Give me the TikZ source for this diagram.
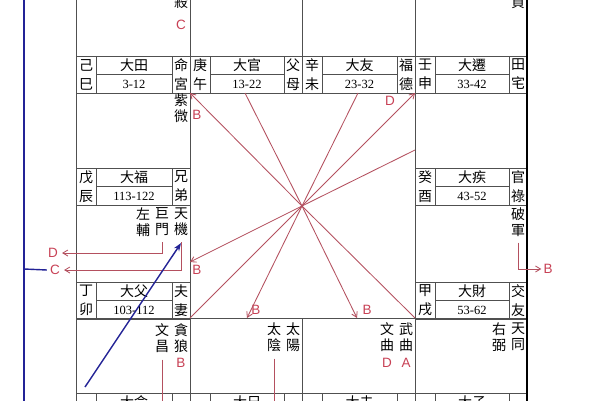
\documentclass[tikz,border=0pt]{standalone}
\usepackage{fontspec}
\setmainfont{Noto Sans CJK TC}
\newfontfamily\cjkf{Noto Sans CJK TC}
\newfontfamily\numf{Liberation Serif}
\newfontfamily\labf{Liberation Sans}
\usetikzlibrary{arrows.meta}
\definecolor{gridc}{RGB}{80,80,80}
\definecolor{redl}{RGB}{180,80,95}
\definecolor{redt}{RGB}{200,65,85}
\definecolor{bluel}{RGB}{35,35,150}
\tikzset{
  gridline/.style={draw=gridc, line width=1pt},
  border/.style={draw=black, line width=2pt},
  ch/.style={font=\cjkf\fontsize{14}{14}\selectfont, inner sep=0pt},
  ch2/.style={font=\cjkf\fontsize{14}{19}\selectfont, inner sep=0pt, align=center},
  star/.style={font=\cjkf\fontsize{14}{16}\selectfont, inner sep=0pt, align=center},
  num/.style={font=\numf\fontsize{12.5}{12.5}\selectfont, inner sep=0pt},
  lab/.style={text=redt, font=\labf\fontsize{13.5}{13.5}\selectfont, inner sep=0pt},
  redline/.style={draw=redl, line width=0.85pt},
  redarrow/.style={redline, -{Straight Barb[length=5pt,width=6pt]}},
  blueline/.style={draw=bluel, line width=1.4pt},
  bluearrow/.style={blueline, -{Stealth[length=8pt,width=6pt]}}
}
\newcommand{\palhdr}[8]{%
  \draw[gridline] (#2,#4) rectangle (#3,{#4+37});
  \draw[gridline] ({#2+20},#4) -- ({#2+20},{#4+37});
  \draw[gridline] ({#3-18},#4) -- ({#3-18},{#4+37});
  \draw[gridline] ({#2+20},{#4+18.5}) -- ({#3-18},{#4+18.5});
  \node[ch2] (#1s) at ({#2+10},{#4+18.5}) {#5};
  \node[ch] (#1n) at ({(#2+#3)/2+1},{#4+9.5}) {#6};
  \node[num] (#1r) at ({(#2+#3)/2+1},{#4+28}) {#7};
  \node[ch2] (#1p) at ({#3-9},{#4+18.5}) {#8};
}
\begin{document}
\begin{tikzpicture}[x=1pt,y=-1pt]
\useasboundingbox (0,0) rectangle (600,400);
\clip (0,0) rectangle (600,400);
\fill[white] (0,0) rectangle (600,400);

% grid
\draw[gridline] (76,-5) -- (76,405);
\draw[gridline] (190,-5) -- (190,405);
\draw[gridline] (302,-5) -- (302,93);
\draw[gridline] (302,318) -- (302,405);
\draw[gridline] (415,-5) -- (415,405);
\draw[gridline] (76,318) -- (527,318);

% palace headers
\palhdr{ha}{76}{190}{56}{己\\巳}{大田}{3-12}{命\\宮}
\palhdr{hb}{190}{302}{56}{庚\\午}{大官}{13-22}{父\\母}
\palhdr{hc}{302}{415}{56}{辛\\未}{大友}{23-32}{福\\德}
\palhdr{hd}{415}{527}{56}{壬\\申}{大遷}{33-42}{田\\宅}
\palhdr{he}{76}{190}{168}{戊\\辰}{大福}{113-122}{兄\\弟}
\palhdr{hf}{415}{527}{168}{癸\\酉}{大疾}{43-52}{官\\祿}
\palhdr{hg}{76}{190}{282}{丁\\卯}{大父}{103-112}{夫\\妻}
\palhdr{hh}{415}{527}{282}{甲\\戌}{大財}{53-62}{交\\友}
\palhdr{hi}{76}{190}{393}{丙}{大命}{}{子}
\palhdr{hj}{190}{302}{393}{丁}{大兄}{}{財}
\palhdr{hk}{302}{415}{393}{丙}{大夫}{}{疾}
\palhdr{hl}{415}{527}{393}{乙}{大子}{}{遷}

\draw[border] (527,-5) -- (527,405);

% stars
\node[star] (sha) at (181,2) {殺};
\node[star] (zhen) at (518,2) {貞};
\node[star] (ziwei) at (181,108) {紫\\微};
\node[star] (tianji) at (181,222) {天\\機};
\node[star] (jumen) at (162,222) {巨\\門};
\node[star] (zuofu) at (143,222) {左\\輔};
\node[star] (tanlang) at (181,338) {貪\\狼};
\node[star] (wenchang) at (162,338) {文\\昌};
\node[star] (pojun) at (518,222) {破\\軍};
\node[star] (taiyang) at (293,337) {太\\陽};
\node[star] (taiyin) at (274,337) {太\\陰};
\node[star] (wuqu) at (406,337) {武\\曲};
\node[star] (wenqu) at (387,337) {文\\曲};
\node[star] (tiantong) at (518,337) {天\\同};
\node[star] (youbi) at (499,337) {右\\弼};

% red labels
\node[lab] (lC1) at (181,25) {C};
\node[lab] (lB1) at (197,115) {B};
\node[lab] (lD1) at (390,101) {D};
\node[lab] (lB2) at (197,270) {B};
\node[lab] (lB3) at (256,310) {B};
\node[lab] (lB4) at (367,310) {B};
\node[lab] (lB5) at (181,363) {B};
\node[lab] (lD2) at (387,363) {D};
\node[lab] (lA) at (406,363) {A};
\node[lab] (lB6) at (548,269) {B};
\node[lab] (lD3) at (53,253) {D};
\node[lab] (lC2) at (55,270) {C};

% centre fan
\coordinate (ctr) at (302,206);
\coordinate (pTL) at (190,93);
\coordinate (pT1) at (245,93);
\coordinate (pT2) at (358,93);
\coordinate (pTR) at (415,93);
\coordinate (pR) at (415,150);
\coordinate (pL) at (190,262);
\coordinate (pBL) at (190,318);
\coordinate (pB1) at (247,318);
\coordinate (pB2) at (357,318);
\coordinate (pBR) at (415,318);
\draw[redarrow] (ctr) -- (pTL);
\draw[redline] (ctr) -- (pT1);
\draw[redline] (ctr) -- (pT2);
\draw[redarrow] (ctr) -- (pTR);
\draw[redline] (ctr) -- (pR);
\draw[redarrow] (ctr) -- (pL);
\draw[redline] (ctr) -- (pBL);
\draw[redarrow] (ctr) -- (pB1);
\draw[redarrow] (ctr) -- (pB2);
\draw[redline] (ctr) -- (pBR);

% red connectors
\draw[redarrow] ([yshift=-6pt]tianji.south) |- ([xshift=4pt]lC2.east);
\draw[redarrow] ([yshift=-6pt]jumen.south) |- ([xshift=4pt]lD3.east);
\draw[redarrow] ([yshift=-6pt]pojun.south) |- ([xshift=-2pt]lB6.west);
\coordinate (wcEnd) at (162,405);
\coordinate (tyEnd) at (274,405);
\draw[redline] ([yshift=-7pt]wenchang.south) -- (wcEnd);
\draw[redline] ([yshift=-7pt]taiyin.south) -- (tyEnd);

% blue
\coordinate (bTop) at (24,-5);
\coordinate (bBot) at (24,405);
\coordinate (bJoin) at (24,269);
\coordinate (bStart) at (85,387);
\draw[blueline] (bTop) -- (bBot);
\draw[blueline] (bJoin) -- ([xshift=-3pt]lC2.west);
\draw[bluearrow] (bStart) -- ([yshift=-7pt]tianji.south);
\end{tikzpicture}
\end{document}
